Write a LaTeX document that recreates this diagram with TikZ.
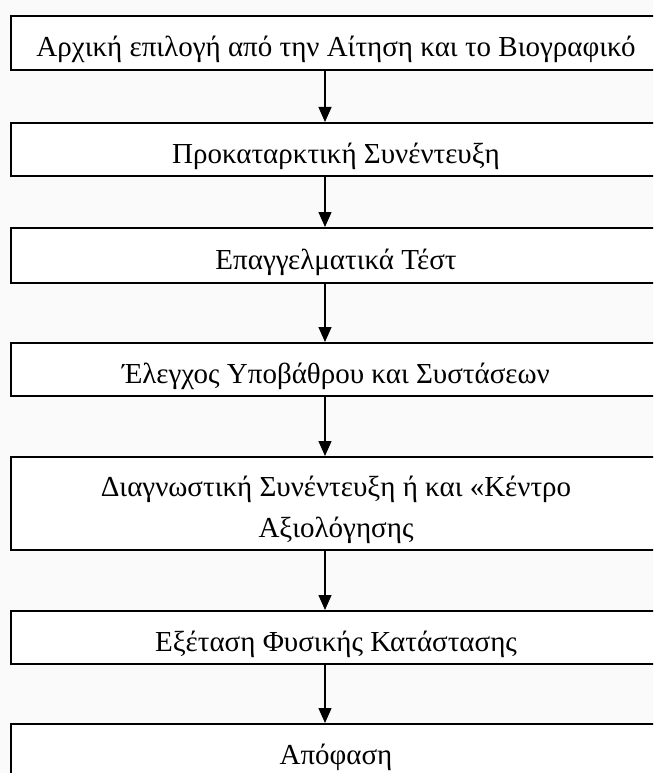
\documentclass[tikz,border=0pt]{standalone}
\usepackage{fontspec}
\setmainfont{Liberation Serif}
\usetikzlibrary{arrows.meta}
\begin{document}
\begin{tikzpicture}[x=1pt,y=-1pt,
  stagebox/.style={draw=black, line width=2pt, fill=white,
    minimum width=650pt, inner sep=0pt, anchor=north west,
    font=\fontsize{29}{41}\selectfont, align=center},
  oneline/.style={text height=27pt, text depth=0pt},
  flow/.style={line width=1.3pt, -{Triangle[length=15pt,width=13pt]}}]
\useasboundingbox (0,0) rectangle (653,773);
\clip (0,0) rectangle (653,773);
\fill[gray!4] (0,0) rectangle (653,773);

% selection stages, top to bottom
\node[stagebox, oneline, minimum height=54pt] (s1) at (10,15)
  {Αρχική επιλογή από την Αίτηση και το Βιογραφικό};
\node[stagebox, oneline, minimum height=53pt] (s2) at (10,122)
  {Προκαταρκτική Συνέντευξη};
\node[stagebox, oneline, minimum height=55pt] (s3) at (10,227)
  {Επαγγελματικά Τέστ};
\node[stagebox, oneline, minimum height=53pt] (s4) at (10,342)
  {Έλεγχος Υποβάθρου και Συστάσεων};
\node[stagebox, minimum height=93pt] (s5) at (10,456)
  {\rule{0pt}{34pt}Διαγνωστική Συνέντευξη ή και «Κέντρο\\Αξιολόγησης};
\node[stagebox, oneline, minimum height=53pt] (s6) at (10,610)
  {Εξέταση Φυσικής Κατάστασης};
\node[stagebox, oneline, minimum height=54pt] (s7) at (10,723)
  {Απόφαση};

% arrows run down a common vertical line
\coordinate (spine) at (325,0);
\foreach \a/\b in {s1/s2, s2/s3, s3/s4, s4/s5, s5/s6, s6/s7}
  \draw[flow] (\a.south -| spine) -- (\b.north -| spine);
\end{tikzpicture}
\end{document}
